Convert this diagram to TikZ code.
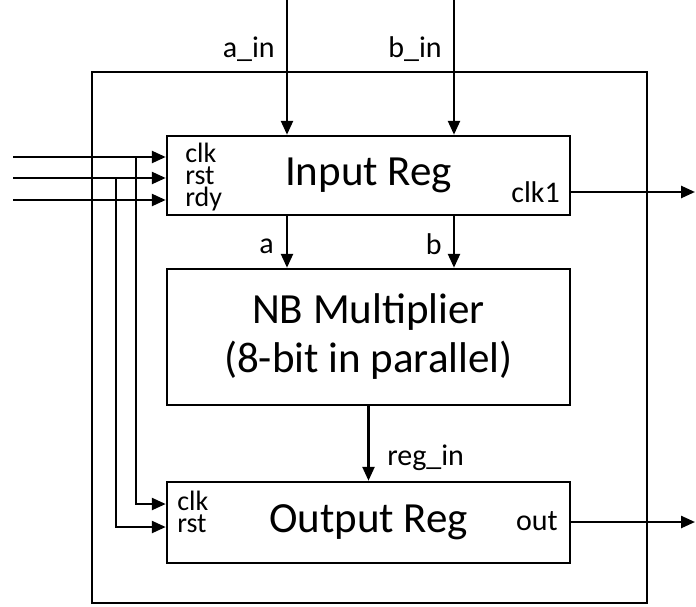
\documentclass[tikz,border=0pt]{standalone}
\usepackage{fontspec}
\setmainfont{Carlito}
\usetikzlibrary{arrows.meta,positioning}

\begin{document}
\begin{tikzpicture}[x=1pt,y=-1pt,line width=2.5pt,
    >={Triangle[length=14pt,width=12pt]},
    blk/.style={draw,inner sep=0pt,minimum width=403pt,align=center,
      font=\fontsize{43}{49}\selectfont},
    lbl/.style={inner sep=0pt,font=\fontsize{30}{32}\selectfont},
    pins/.style={inner sep=0pt,align=left,font=\fontsize{28}{22}\selectfont}]
    \useasboundingbox (0,0) rectangle (696,606);

    % chip outline and the three blocks
    \node[draw,inner sep=0pt,minimum width=555pt,minimum height=531pt] (chip) at (369.5,337.5) {};
    \node[blk,minimum height=79pt] (ireg) at (368.5,175.5) {Input Reg};
    \node[blk,minimum height=136pt] (mult) at (368.5,337) {NB Multiplier\\(8-bit in parallel)};
    \node[blk,minimum height=81pt] (oreg) at (368.5,522.5) {Output Reg};

    % free ends and taps
    \coordinate (ain) at (287,0);
    \coordinate (bin) at (454,0);
    \coordinate (clkin) at (13,157);
    \coordinate (rstin) at (13,178);
    \coordinate (rdyin) at (13,200);
    \coordinate (clktap) at (136,157);
    \coordinate (rsttap) at (116,178);
    \coordinate (oclk) at (0,504);
    \coordinate (orst) at (0,527);
    \coordinate (clkout) at (695,192);
    \coordinate (outend) at (695,522);

    \draw[->] (ain) -- (ain |- ireg.north);
    \draw[->] (bin) -- (bin |- ireg.north);
    \draw[->] (ain |- ireg.south) -- (ain |- mult.north);
    \draw[->] (bin |- ireg.south) -- (bin |- mult.north);
    \draw[->] (mult.south) -- (oreg.north);

    \foreach \s in {clkin,rstin,rdyin}
      \draw[->] (\s) -- (\s -| ireg.west);
    \draw[->] (clktap) |- (oclk -| oreg.west);
    \draw[->] (rsttap) |- (orst -| oreg.west);

    \draw[->] (clkout -| ireg.east) -- (clkout);
    \draw[->] (outend -| oreg.east) -- (outend);

    % port labels
    \node[lbl,anchor=base east] (lain) at (276,57) {a\_in};
    \node[lbl,anchor=base east] (lbin) at (443,57) {b\_in};
    \node[lbl,anchor=base east] (la) at (275,253) {a};
    \node[lbl,anchor=base east] (lb) at (443,254) {b};
    \node[lbl,anchor=base west] (lregin) at (386,465) {reg\_in};
    \node[lbl,anchor=base east] (lclkone) at (561,202) {clk1};
    \node[lbl,anchor=base east] (lout) at (559,530) {out};
    \node[pins,anchor=north west] (ipins) at (184,142) {clk\\rst\\rdy};
    \node[pins,anchor=north west] (opins) at (176,490) {clk\\rst};

\end{tikzpicture}
\end{document}
